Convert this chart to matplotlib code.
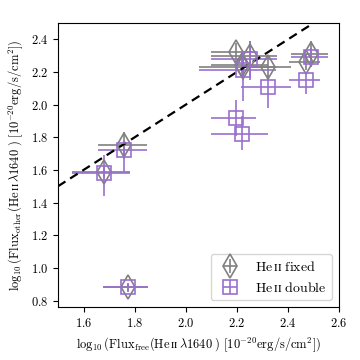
import numpy as np
import matplotlib
matplotlib.use("Agg")
import matplotlib.pyplot as plt

plt.rcParams["mathtext.fontset"] = "cm"
plt.rcParams["font.family"] = ["cmr10", "DejaVu Serif"]
plt.rcParams["axes.formatter.use_mathtext"] = True

# flux from the free fit (x), shared by both samples
flux_free = [1.68, 1.76, 1.775, 2.195, 2.25, 2.225, 2.22, 2.32, 2.49, 2.47]
xerr_lo = [0.125, 0.105, 0.10, 0.095, 0.15, 0.175, 0.12, 0.105, 0.08, 0.067]
xerr_hi = [0.10, 0.088, 0.078, 0.08, 0.106, 0.13, 0.10, 0.09, 0.065, 0.056]

# He II fixed
flux_fixed = [1.59, 1.75, 0.88, 2.32, 2.30, 2.23, 2.24, 2.23, 2.31, 2.26]
yerr_fixed = [0.04, 0.08, 0.03, 0.06, 0.09, 0.07, 0.07, 0.07, 0.08, 0.05]

# He II double
flux_double = [1.58, 1.72, 0.88, 1.92, 2.28, 2.21, 1.82, 2.11, 2.29, 2.15]
yerr_double_lo = [0.14, 0.13, 0.02, 0.11, 0.13, 0.19, 0.10, 0.13, 0.06, 0.085]
yerr_double_hi = [0.11, 0.06, 0.02, 0.11, 0.11, 0.09, 0.11, 0.07, 0.06, 0.045]

gray = "#808080"
purple = "#9a6fd0"

fig = plt.figure(figsize=(3.6, 3.6), dpi=100)
ax = fig.add_axes([0.161, 0.147, 0.781, 0.789])

ax.errorbar(flux_free, flux_fixed, xerr=[xerr_lo, xerr_hi], yerr=yerr_fixed,
            fmt="d", ms=12, mfc="none", mec=gray, mew=1.2, ecolor=gray,
            elinewidth=1.2, capsize=0, label=r"$\mathrm{He\,ɪɪ\ fixed}$")
ax.errorbar(flux_free, flux_double, xerr=[xerr_lo, xerr_hi],
            yerr=[yerr_double_lo, yerr_double_hi],
            fmt="s", ms=10, mfc="none", mec=purple, mew=1.2, ecolor=purple,
            elinewidth=1.2, capsize=0, label=r"$\mathrm{He\,ɪɪ\ double}$")

line = np.array([1.5, 2.6])
ax.plot(line, line, ls="--", color="k", lw=1.6, dashes=(4, 2.5))

ax.set_xlim(1.5, 2.6)
ax.set_ylim(0.76, 2.5)
ax.set_xticks([1.6, 1.8, 2.0, 2.2, 2.4, 2.6])
ax.set_yticks([0.8, 1.0, 1.2, 1.4, 1.6, 1.8, 2.0, 2.2, 2.4])
ax.tick_params(labelsize=9, length=3.5)

ax.set_xlabel(r"$\log_{10}(\mathrm{Flux_{free}}(\mathrm{He\,ɪɪ}\,\lambda1640\ )\ [10^{-20}\mathrm{erg/s/cm^2}])$",
              fontsize=9)
ax.set_ylabel(r"$\log_{10}(\mathrm{Flux_{other}}(\mathrm{He\,ɪɪ}\,\lambda1640\ )\ [10^{-20}\mathrm{erg/s/cm^2}])$",
              fontsize=9)

ax.legend(loc="lower right", fontsize=10, handletextpad=0.8)

fig.savefig("out.png", dpi=100)
